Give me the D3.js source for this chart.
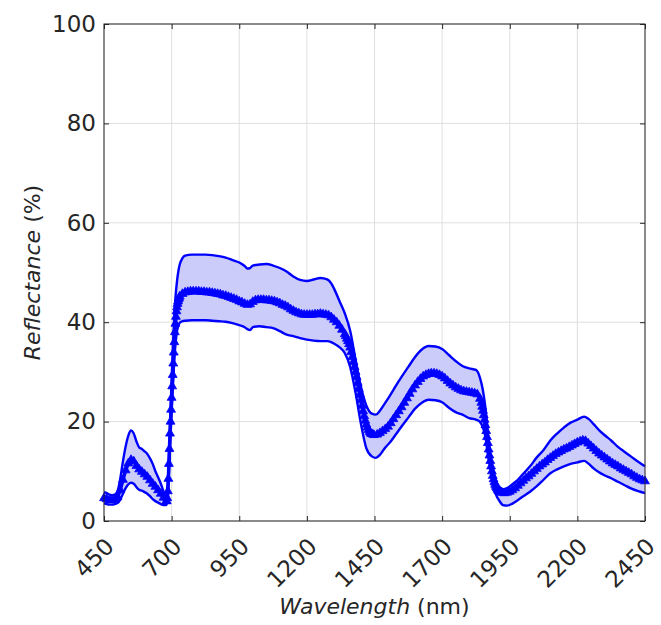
<!DOCTYPE html>
<html>
<head>
<meta charset="utf-8">
<script src="https://cdn.jsdelivr.net/npm/d3@7"></script>
<style>
  body { margin: 0; background: #fff; }
</style>
</head>
<body>
<div id="chart"></div>
<script>

// min / max envelope of the spectra (nm, %)
var bandWavelength = [
  450, 460, 470, 480, 490, 500, 510, 520, 530, 540, 550, 560, 570, 580, 590, 600, 610, 620, 630, 640,
  650, 660, 670, 680, 685, 690, 695, 700, 705, 710, 715, 720, 725, 730, 740, 750, 775, 800, 825, 850,
  875, 900, 925, 950, 970, 980, 990, 1000, 1025, 1050, 1075, 1100, 1125, 1150, 1175, 1200, 1225, 1250, 1275, 1290,
  1300, 1320, 1340, 1360, 1380, 1400, 1420, 1440, 1455, 1470, 1490, 1510, 1530, 1550, 1575, 1600, 1625, 1650, 1675, 1700,
  1725, 1750, 1775, 1800, 1825, 1840, 1850, 1860, 1870, 1880, 1890, 1900, 1910, 1925, 1940, 1960, 1980, 2000, 2025, 2050,
  2075, 2100, 2125, 2150, 2175, 2200, 2225, 2240, 2260, 2280, 2300, 2325, 2350, 2375, 2400, 2425, 2450
];
var upperValues = [
  5.8, 5.6, 5.3, 5.2, 5.3, 6.0, 8.5, 12.0, 15.0, 17.2, 18.2, 17.6, 16.0, 14.8, 14.5, 14.0, 13.5, 12.6, 11.5, 10.0,
  8.8, 7.5, 5.9, 4.6, 7.0, 13.0, 21.0, 28.5, 35.5, 41.5, 45.5, 48.3, 50.3, 51.6, 52.9, 53.4, 53.6, 53.6, 53.6, 53.5,
  53.3, 53.0, 52.5, 52.0, 51.3, 50.8, 50.9, 51.4, 51.6, 51.7, 51.4, 50.9, 50.2, 49.2, 48.5, 48.3, 48.6, 48.9, 48.6, 47.8,
  46.8, 44.3, 41.8, 38.3, 32.5, 27.0, 23.2, 21.6, 21.4, 22.2, 23.8, 25.5, 27.3, 29.0, 31.0, 33.0, 34.5, 35.2, 35.1, 34.6,
  33.4, 32.2, 31.2, 30.7, 30.4, 28.8, 26.5, 22.8, 17.5, 13.0, 10.0, 8.0, 7.0, 6.4, 6.6, 7.4, 8.3, 9.5, 11.0, 12.8,
  14.3, 16.2, 17.6, 18.8, 19.8, 20.4, 21.0, 20.6, 19.5, 18.3, 17.3, 16.2, 14.9, 13.9, 12.9, 11.9, 11.0
];
var lowerValues = [
  3.6, 3.4, 3.3, 3.3, 3.4, 3.6, 4.3, 5.5, 6.6, 7.4, 7.7, 7.5, 6.8, 6.3, 6.1, 5.8, 5.5, 5.0, 4.4, 4.0,
  3.7, 3.4, 3.2, 3.2, 4.2, 9.5, 16.0, 22.0, 27.5, 32.5, 36.0, 38.2, 39.3, 39.9, 40.2, 40.3, 40.4, 40.4, 40.4, 40.3,
  40.2, 40.1, 39.8, 39.4, 39.0, 38.6, 38.4, 39.0, 39.2, 39.0, 38.8, 38.2, 37.5, 37.2, 36.8, 36.5, 36.3, 36.2, 36.2, 36.0,
  35.7, 35.0, 33.8, 31.0, 25.8, 19.5, 14.6, 13.0, 12.7, 13.3, 14.8, 16.0, 17.5, 19.0, 20.8, 22.6, 23.8, 24.4, 24.3, 23.9,
  22.8, 21.9, 21.4, 20.7, 20.4, 19.9, 18.9, 17.0, 13.0, 10.0, 7.3, 5.2, 4.2, 3.2, 3.1, 3.5, 4.2, 5.0, 5.9, 7.0,
  8.3, 9.6, 10.4, 11.0, 11.5, 11.8, 12.1, 11.6, 10.6, 9.8, 9.2, 8.6, 7.9, 7.2, 6.5, 6.0, 5.6
];

// mean spectrum (denser where the curve is steep)
var meanWavelength = [
  450, 460, 470, 480, 490, 500, 510, 520, 530, 540, 550, 560, 570, 580, 590, 600, 610, 620, 630, 640, 650, 660, 670, 680,
  682, 684, 686, 688, 690, 692, 694, 696, 698, 700, 702, 704, 706, 708, 710, 712, 714, 716, 718, 720, 722, 724, 726, 728, 730,
  740, 750, 760, 770, 780, 790, 800, 810, 820, 830, 840, 850, 860, 870, 880, 890, 900, 910, 920, 930, 940, 950, 960, 970, 980, 990,
  1000, 1010, 1020, 1030, 1040, 1050, 1060, 1070, 1080, 1090, 1100, 1110, 1120, 1130, 1140, 1150, 1160, 1170, 1180, 1190,
  1200, 1210, 1220, 1230, 1240, 1250, 1260, 1270, 1280, 1290, 1300, 1310, 1320, 1330, 1340,
  1344, 1348, 1352, 1356, 1360, 1364, 1368, 1372, 1376, 1380, 1384, 1388, 1392, 1396, 1400, 1404, 1408, 1412, 1416, 1420,
  1424, 1428, 1432, 1436, 1440, 1444, 1448,
  1460, 1470, 1480, 1490, 1500, 1510, 1520, 1530, 1540, 1550, 1560, 1570, 1580, 1590, 1600, 1610, 1620, 1630, 1640, 1650,
  1660, 1670, 1680, 1690, 1700, 1710, 1720, 1730, 1740, 1750, 1760, 1770, 1780, 1790, 1800, 1810, 1820, 1830, 1840,
  1845, 1848, 1851, 1854, 1857, 1860, 1863, 1866, 1869, 1872, 1875, 1878, 1881, 1884, 1887, 1890, 1893, 1896, 1899, 1902,
  1905, 1908, 1911, 1914,
  1920, 1930, 1940, 1950, 1960, 1970, 1980, 1990, 2000, 2010, 2020, 2030, 2040, 2050, 2060, 2070, 2080, 2090, 2100,
  2110, 2120, 2130, 2140, 2150, 2160, 2170, 2180, 2190, 2200, 2210, 2220, 2230, 2240, 2250, 2260, 2270, 2280, 2290, 2300,
  2310, 2320, 2330, 2340, 2350, 2360, 2370, 2380, 2390, 2400, 2410, 2420, 2430, 2440, 2450
];
var meanValues = [
  4.6, 4.4, 4.2, 4.2, 4.3, 4.8, 6.2, 8.3, 10.2, 11.6, 12.3, 12.0, 11.1, 10.4, 9.9, 9.4, 8.9, 8.2, 7.5, 6.9, 6.2, 5.5, 4.7, 4.0,
  4.0, 4.6, 6.0, 8.5, 11.5, 14.5, 17.6, 20.0, 22.4, 24.8, 27.1, 29.4, 31.7, 33.9, 36.0, 38.0, 39.7, 41.1, 42.2, 43.0, 43.7, 44.2, 44.6, 44.9, 45.2,
  45.7, 46.0, 46.1, 46.2, 46.2, 46.2, 46.2, 46.1, 46.1, 46.0, 46.0, 45.9, 45.8, 45.7, 45.6, 45.4, 45.3, 45.1, 44.9, 44.7, 44.5, 44.2, 44.0, 43.7, 43.5, 43.6,
  44.1, 44.4, 44.5, 44.5, 44.5, 44.4, 44.4, 44.3, 44.2, 44.0, 43.8, 43.5, 43.3, 43.0, 42.6, 42.3, 42.0, 41.8, 41.6, 41.5,
  41.5, 41.5, 41.5, 41.6, 41.6, 41.7, 41.6, 41.5, 41.4, 41.0, 40.5, 40.0, 39.3, 38.5, 37.6,
  37.2, 36.7, 36.2, 35.6, 34.9, 34.0, 33.0, 32.0, 31.0, 30.0, 29.0, 27.8, 26.6, 25.4, 24.3, 23.2, 22.1, 21.1, 20.2, 19.4,
  18.8, 18.3, 17.9, 17.6, 17.5, 17.4, 17.3,
  17.4, 17.7, 18.1, 18.5, 19.0, 19.7, 20.5, 21.3, 22.1, 22.9, 23.8, 24.7, 25.6, 26.5, 27.3, 28.0, 28.6, 29.1, 29.4, 29.6,
  29.7, 29.7, 29.6, 29.4, 29.1, 28.7, 28.2, 27.7, 27.3, 26.9, 26.6, 26.3, 26.1, 26.0, 25.9, 25.8, 25.7, 25.5, 24.6,
  23.8, 23.0, 22.2, 21.3, 20.4, 19.3, 18.1, 16.9, 15.7, 14.4, 13.2, 12.1, 11.0, 10.0, 9.1, 8.4, 7.8, 7.3, 6.9, 6.6,
  6.3, 6.1, 5.9, 5.8,
  5.7, 5.6, 5.7, 5.9, 6.2, 6.6, 7.1, 7.6, 8.1, 8.6, 9.0, 9.5, 10.0, 10.5, 11.0, 11.4, 11.8, 12.3, 12.7,
  13.1, 13.5, 13.8, 14.1, 14.4, 14.6, 14.9, 15.2, 15.5, 15.8, 16.0, 16.2, 16.1, 15.6, 15.1, 14.6, 14.1, 13.6, 13.2, 12.8,
  12.4, 12.0, 11.6, 11.3, 11.0, 10.6, 10.3, 10.0, 9.7, 9.4, 9.0, 8.7, 8.4, 8.2, 8.0
];

var xTicks = [450, 700, 950, 1200, 1450, 1700, 1950, 2200, 2450];
var yTicks = [0, 20, 40, 60, 80, 100];

var attrs = {
  svgWidth: 661,
  svgHeight: 625,
  marginTop: 24,
  marginBottom: 104,
  marginLeft: 104,
  marginRight: 16,
  defaultFont: "'DejaVu Sans', 'Liberation Sans', Arial, sans-serif",
  textFill: '#262626',
  gridColor: '#dfdfdf',
  lineColor: '#0000ff',
  bandFill: '#ccccfa'
};

var calc = {};
calc.chartWidth = attrs.svgWidth - attrs.marginLeft - attrs.marginRight;
calc.chartHeight = attrs.svgHeight - attrs.marginTop - attrs.marginBottom;

var band = bandWavelength.map((w, i) => ({ w: w, hi: upperValues[i], lo: lowerValues[i] }));
var mean = meanWavelength.map((w, i) => ({ w: w, v: meanValues[i] }));

var xScale = d3.scaleLinear().domain([450, 2450]).range([0, calc.chartWidth]);
var yScale = d3.scaleLinear().domain([0, 100]).range([calc.chartHeight, 0]);

var svg = d3.select('#chart').append('svg')
  .attr('width', attrs.svgWidth)
  .attr('height', attrs.svgHeight)
  .attr('font-family', attrs.defaultFont);

var chart = svg.append('g')
  .attr('transform', 'translate(' + attrs.marginLeft + ',' + attrs.marginTop + ')');

// grid
chart.append('g').selectAll('line').data(xTicks).enter().append('line')
  .attr('x1', d => xScale(d)).attr('x2', d => xScale(d))
  .attr('y1', 0).attr('y2', calc.chartHeight)
  .attr('stroke', attrs.gridColor);

chart.append('g').selectAll('line').data(yTicks).enter().append('line')
  .attr('x1', 0).attr('x2', calc.chartWidth)
  .attr('y1', d => yScale(d)).attr('y2', d => yScale(d))
  .attr('stroke', attrs.gridColor);

// envelope
var area = d3.area()
  .curve(d3.curveMonotoneX)
  .x(d => xScale(d.w))
  .y0(d => yScale(d.lo))
  .y1(d => yScale(d.hi));

chart.append('path').datum(band)
  .attr('d', area)
  .attr('fill', attrs.bandFill);

['hi', 'lo'].forEach(k => {
  var line = d3.line().curve(d3.curveMonotoneX).x(d => xScale(d.w)).y(d => yScale(d[k]));
  chart.append('path').datum(band)
    .attr('d', line)
    .attr('fill', 'none')
    .attr('stroke', attrs.lineColor)
    .attr('stroke-width', 2.4);
});

// mean with triangle markers
var meanLine = d3.line().x(d => xScale(d.w)).y(d => yScale(d.v));
chart.append('path').datum(mean)
  .attr('d', meanLine)
  .attr('fill', 'none')
  .attr('stroke', attrs.lineColor)
  .attr('stroke-width', 3.5);

var tri = d3.symbol().type(d3.symbolTriangle).size(34);
chart.append('g').selectAll('path').data(mean).enter().append('path')
  .attr('d', tri)
  .attr('transform', d => 'translate(' + xScale(d.w) + ',' + yScale(d.v) + ')')
  .attr('fill', attrs.lineColor)
  .attr('stroke', attrs.lineColor)
  .attr('stroke-width', 0.8);

// axes (ticks point inward, on all four sides)
var xAxis = chart.append('g')
  .attr('transform', 'translate(0,' + calc.chartHeight + ')')
  .call(d3.axisBottom(xScale).tickValues(xTicks).tickSize(-5).tickSizeOuter(0).tickFormat(d3.format('d')));

xAxis.selectAll('text')
  .attr('x', 0).attr('y', 0).attr('dy', '0.3em')
  .attr('text-anchor', 'end')
  .attr('transform', 'translate(6,22) rotate(-45)');

chart.append('g')
  .call(d3.axisLeft(yScale).tickValues(yTicks).tickSize(-5).tickSizeOuter(0).tickPadding(8).tickFormat(d3.format('d')));

chart.append('g')
  .call(d3.axisTop(xScale).tickValues(xTicks).tickSize(-5).tickSizeOuter(0).tickFormat(''));
chart.append('g')
  .attr('transform', 'translate(' + calc.chartWidth + ',0)')
  .call(d3.axisRight(yScale).tickValues(yTicks).tickSize(-5).tickSizeOuter(0).tickFormat(''));

chart.selectAll('.domain').remove();
chart.selectAll('.tick line').attr('stroke', attrs.textFill);
chart.selectAll('.tick text')
  .attr('fill', attrs.textFill)
  .attr('font-family', attrs.defaultFont)
  .attr('font-size', 23);

chart.append('rect')
  .attr('x', 0).attr('y', 0)
  .attr('width', calc.chartWidth).attr('height', calc.chartHeight)
  .attr('fill', 'none')
  .attr('stroke', attrs.textFill);

// axis titles
var xTitle = svg.append('text')
  .attr('x', attrs.marginLeft + calc.chartWidth / 2)
  .attr('y', 614)
  .attr('text-anchor', 'middle')
  .attr('font-size', 22)
  .attr('fill', attrs.textFill);
xTitle.append('tspan').attr('font-style', 'italic').text('Wavelength');
xTitle.append('tspan').text(' (nm)');

var yTitle = svg.append('text')
  .attr('transform', 'translate(40,' + (attrs.marginTop + calc.chartHeight / 2) + ') rotate(-90)')
  .attr('text-anchor', 'middle')
  .attr('font-size', 22)
  .attr('fill', attrs.textFill);
yTitle.append('tspan').attr('font-style', 'italic').text('Reflectance');
yTitle.append('tspan').text(' (%)');

</script>
</body>
</html>
